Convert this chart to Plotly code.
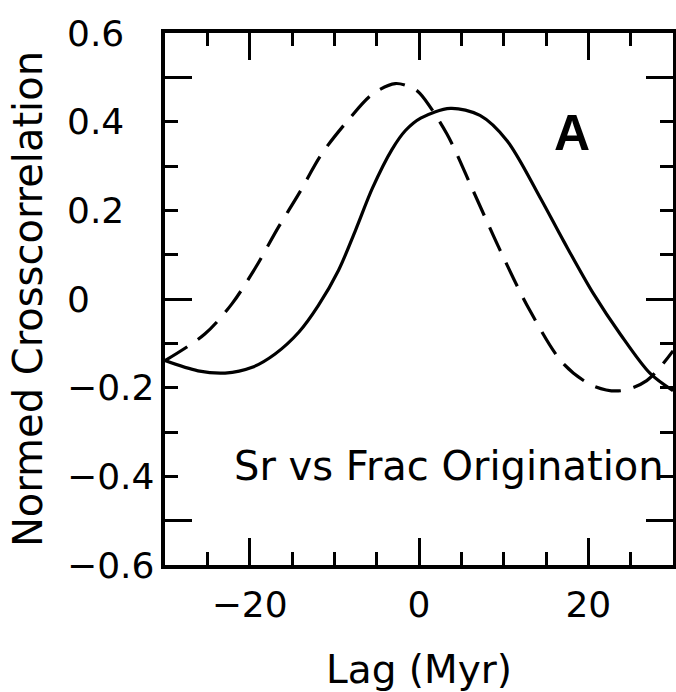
import plotly.graph_objects as go

# Data
lag_solid = [-30, -26.1, -22.9, -19.7, -17.0, -14.2, -11.9, -9.5, -7.5, -5.5, -3.2, -1.6, 0.2,
             3.7, 7.2, 10.4, 14.3, 17.1, 20.6, 23.8, 27.3, 30]
corr_solid = [-0.139, -0.162, -0.167, -0.154, -0.124, -0.075, -0.015, 0.065, 0.155, 0.250, 0.337, 0.380, 0.408,
              0.430, 0.414, 0.357, 0.229, 0.130, 0.012, -0.080, -0.168, -0.207]

lag_dashed = [-30, -25.3, -22.1, -19.3, -16.6, -14.2, -11.5, -8.3, -5.5, -2.8, -0.8,
              0.1, 3.3, 6.4, 9.6, 13.1, 17.1, 20.6, 23.8, 26.9, 30]
corr_dashed = [-0.139, -0.079, -0.011, 0.071, 0.162, 0.237, 0.327, 0.405, 0.462, 0.486, 0.476,
               0.464, 0.372, 0.244, 0.109, -0.026, -0.147, -0.196, -0.207, -0.184, -0.117]

x_ticks = [-20, 0, 20]
x_tick_text = ["\u221220", "0", "20"]
y_ticks = [-0.6, -0.4, -0.2, 0, 0.2, 0.4, 0.6]
y_tick_text = ["\u22120.6", "\u22120.4", "\u22120.2", "0", "0.2", "0.4", "0.6"]
y_long_ticks = [-0.5, 0, 0.5]

FONT = "DejaVu Sans"

fig = go.Figure()
fig.add_trace(go.Scatter(x=lag_solid, y=corr_solid, mode="lines",
                         line=dict(color="black", width=3.2, shape="spline", smoothing=0.9),
                         showlegend=False, hoverinfo="skip"))
fig.add_trace(go.Scatter(x=lag_dashed, y=corr_dashed, mode="lines", yaxis="y2",
                         line=dict(color="black", width=3.2, shape="spline", smoothing=0.9,
                                   dash="26px,13px"),
                         showlegend=False, hoverinfo="skip"))

# left-aligned y tick labels (as in the reference)
for v, t in zip(y_ticks, y_tick_text):
    fig.add_annotation(x=-0.197, y=v, xref="paper", yref="y", text=t, showarrow=False,
                       xanchor="left", yanchor="middle",
                       font=dict(family=FONT, size=36, color="black"))

fig.add_annotation(x=3.6, y=-0.377, xref="x", yref="y", text="Sr vs Frac Origination",
                   showarrow=False, xanchor="center", yanchor="middle",
                   font=dict(family=FONT, size=40, color="black"))
fig.add_annotation(x=18.1, y=0.374, xref="x", yref="y", text="<b>A</b>",
                   showarrow=False, xanchor="center", yanchor="middle",
                   font=dict(family="Liberation Sans", size=50, color="black"))

fig.update_layout(
    width=676, height=692,
    margin=dict(l=165, r=3, t=33, b=127, autoexpand=False),
    paper_bgcolor="white", plot_bgcolor="white",
    font=dict(family=FONT, size=36, color="black"),
    xaxis=dict(range=[-30, 30], tickmode="array", tickvals=x_ticks, ticktext=x_tick_text,
               ticks="inside", ticklen=27, tickwidth=3, tickcolor="black",
               minor=dict(dtick=5, tick0=0, ticks="inside", ticklen=13, tickwidth=3, tickcolor="black"),
               showline=True, linewidth=3.5, linecolor="black", mirror="ticks",
               showgrid=False, zeroline=False, ticklabelstandoff=5, automargin=False,
               tickfont=dict(size=36),
               title=dict(text="Lag (Myr)", standoff=33, font=dict(size=39))),
    yaxis=dict(range=[-0.6, 0.6], tickmode="array", tickvals=y_ticks, showticklabels=False,
               ticks="inside", ticklen=13, tickwidth=3, tickcolor="black",
               minor=dict(dtick=0.1, tick0=0, ticks="inside", ticklen=13, tickwidth=3, tickcolor="black"),
               showline=True, linewidth=3.5, linecolor="black", mirror="ticks",
               showgrid=False, zeroline=False, automargin=False,
               title=dict(text="Normed Crosscorrelation", standoff=107, font=dict(size=40))),
    yaxis2=dict(range=[-0.6, 0.6], overlaying="y", side="left", tickmode="array",
                tickvals=y_long_ticks, showticklabels=False, automargin=False,
                ticks="inside", ticklen=27, tickwidth=3, tickcolor="black",
                showline=False, mirror="ticks", showgrid=False, zeroline=False),
)

fig.write_html(
    "out.html",
    config={"responsive": False, "displayModeBar": False},
    post_script="document.body.style.margin='0';document.body.style.overflow='hidden';"
                "Plotly.relayout('{plot_id}', {width: 676, height: 692});",
)
